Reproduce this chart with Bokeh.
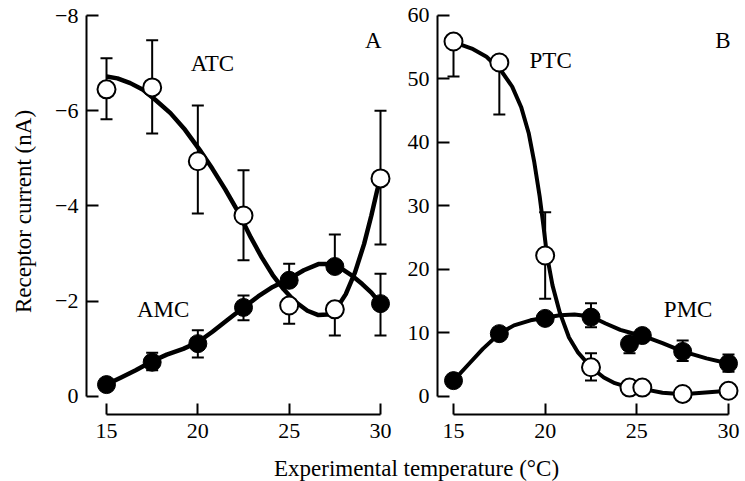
from bokeh.plotting import figure
from bokeh.layouts import column, row
from bokeh.models import Range1d, FixedTicker, Whisker, TeeHead, ColumnDataSource, Label
from bokeh.core.properties import value
from bokeh.embed import file_html
from bokeh.resources import INLINE

FONT = "Liberation Serif"
AXFONT = "'Liberation Serif', serif"

# ---------------- Panel A data (receptor current, nA; plotted negative) ----------------
a_temp = [15, 17.5, 20, 22.5, 25, 27.5, 30]
atc = [-6.45, -6.49, -4.94, -3.80, -1.91, -1.83, -4.58]
atc_lo = [-5.82, -5.52, -3.84, -2.86, -1.53, -1.28, -3.19]
atc_hi = [-7.10, -7.48, -6.11, -4.75, -1.91, -1.83, -6.00]
amc = [-0.25, -0.72, -1.11, -1.87, -2.44, -2.73, -1.95]
amc_lo = [-0.25, -0.55, -0.82, -1.60, -2.44, -2.73, -1.28]
amc_hi = [-0.25, -0.92, -1.39, -2.12, -2.79, -3.40, -2.58]

atc_fit_t = [15.0, 15.6, 16.3, 17.0, 17.7, 18.5, 19.3, 20.1, 20.8, 21.5, 22.2, 22.9, 23.5,
             24.1, 24.7, 25.3, 26.0, 26.6, 27.1, 27.6, 28.1, 28.6, 29.1, 29.5, 29.8, 30.0]
atc_fit_v = [-6.72, -6.68, -6.58, -6.44, -6.22, -5.95, -5.60, -5.18, -4.78, -4.35, -3.88, -3.34, -2.92,
             -2.55, -2.25, -2.00, -1.80, -1.71, -1.72, -1.85, -2.15, -2.60, -3.20, -3.80, -4.30, -4.60]
amc_fit_t = [15.0, 15.8, 16.6, 17.5, 18.3, 19.2, 20.0, 20.8, 21.6, 22.5, 23.3, 24.1,
             25.0, 25.8, 26.6, 27.2, 27.8, 28.4, 29.0, 29.5, 30.0]
amc_fit_v = [-0.25, -0.40, -0.55, -0.74, -0.88, -1.00, -1.14, -1.36, -1.60, -1.87, -2.10, -2.30,
             -2.47, -2.65, -2.78, -2.78, -2.70, -2.55, -2.36, -2.18, -1.95]

a_label_x = [20.8, 18.1, 29.6]
a_label_y = [-7.0, -1.83, -7.48]
a_label_text = ["ATC", "AMC", "A"]
a_yticks = [-8, -6, -4, -2, 0]
a_ytick_labels = ["\u22128", "\u22126", "\u22124", "\u22122", "0"]

# ---------------- Panel B data ----------------
b_temp = [15, 17.5, 20, 22.5, 24.6, 25.3, 27.5, 30]
ptc = [55.9, 52.6, 22.2, 4.6, 1.4, 1.4, 0.4, 0.9]
ptc_lo = [50.4, 44.4, 15.4, 2.5, 1.4, 1.4, 0.4, 0.9]
ptc_hi = [55.9, 52.6, 29.0, 6.8, 1.4, 1.4, 0.4, 0.9]
pmc = [2.5, 9.9, 12.3, 12.5, 8.3, 9.6, 7.1, 5.2]
pmc_lo = [2.5, 9.9, 12.3, 10.9, 6.8, 9.6, 5.6, 3.9]
pmc_hi = [2.5, 9.9, 12.3, 14.7, 8.3, 9.6, 8.8, 6.6]

ptc_fit_t = [15.2, 16.0, 16.8, 17.6, 18.2, 18.7, 19.1, 19.4, 19.7, 19.9, 20.1, 20.4,
             20.8, 21.3, 21.8, 22.5, 23.2, 23.8, 24.6, 25.3, 26.4, 27.5, 30.0]
ptc_fit_v = [55.6, 54.8, 53.5, 51.3, 48.8, 45.5, 41.5, 37.0, 31.5, 27.0, 22.2, 17.5,
             13.2, 9.3, 6.9, 4.6, 3.0, 2.1, 1.4, 1.2, 0.6, 0.35, 0.9]
pmc_fit_t = [15.0, 15.8, 16.6, 17.5, 18.3, 19.2, 20.0, 20.8, 21.6, 22.5, 23.3, 24.1,
             24.7, 25.3, 26.4, 27.5, 28.8, 30.0]
pmc_fit_v = [2.5, 5.0, 7.5, 9.9, 11.2, 12.0, 12.4, 12.8, 12.9, 12.6, 11.5, 10.5,
             10.0, 9.6, 8.4, 7.1, 6.0, 5.2]

b_label_x = [20.3, 27.8, 29.7]
b_label_y = [52.9, 13.7, 56.1]
b_label_text = ["PTC", "PMC", "B"]
b_yticks = [0, 10, 20, 30, 40, 50, 60]

xticks = [15, 20, 25, 30]
x_title = "Experimental temperature (\u00b0C)"
y_title = "Receptor current (nA)"


def style(p, ybounds, yticks):
    p.outline_line_color = None
    p.grid.visible = False
    p.background_fill_color = "white"
    for ax in (p.xaxis[0], p.yaxis[0]):
        ax.axis_line_width = 2
        ax.axis_line_color = "black"
        ax.major_tick_line_width = 2
        ax.major_tick_line_color = "black"
        ax.major_tick_out = 0
        ax.minor_tick_line_color = None
        ax.major_label_text_font = AXFONT
        ax.major_label_text_font_size = "22px"
        ax.major_label_text_color = "black"
    p.xaxis[0].bounds = (15, 30)
    p.xaxis[0].ticker = FixedTicker(ticks=xticks)
    p.xaxis[0].major_tick_in = 11
    p.xaxis[0].major_label_standoff = 9
    p.yaxis[0].bounds = ybounds
    p.yaxis[0].ticker = FixedTicker(ticks=yticks)
    p.yaxis[0].major_tick_in = 12
    p.yaxis[0].major_label_standoff = 8


def whisk(p, x, lo, hi):
    src = ColumnDataSource(dict(x=x, lo=lo, hi=hi))
    w = Whisker(source=src, base="x", lower="lo", upper="hi", dimension="height",
                line_width=2, line_color="black", level="underlay",
                lower_head=TeeHead(size=12, line_width=2, line_color="black"),
                upper_head=TeeHead(size=12, line_width=2, line_color="black"))
    p.add_layout(w)


# ---------------- Figure A ----------------
pA = figure(width=400, height=455, output_backend="svg", toolbar_location=None,
            x_range=Range1d(13.905, 30.657), y_range=Range1d(0.378, -8.147),
            min_border_left=86, min_border_right=8, min_border_top=8, min_border_bottom=41)
style(pA, (-8, 0), a_yticks)
pA.yaxis[0].major_label_overrides = {t: s for t, s in zip(a_yticks, a_ytick_labels)}
pA.yaxis[0].axis_label = y_title
pA.yaxis[0].axis_label_text_font = AXFONT
pA.yaxis[0].axis_label_text_font_size = "23px"
pA.yaxis[0].axis_label_text_font_style = "normal"
pA.yaxis[0].axis_label_text_color = "black"
pA.yaxis[0].axis_label_standoff = 16

whisk(pA, a_temp, atc_lo, atc_hi)
whisk(pA, a_temp, amc_lo, amc_hi)
pA.line(atc_fit_t, atc_fit_v, line_width=4.5, line_color="black", line_join="round")
pA.line(amc_fit_t, amc_fit_v, line_width=4.5, line_color="black", line_join="round")
pA.scatter(a_temp, amc, size=18, marker="circle", fill_color="black", line_color="black", line_width=1)
pA.scatter(a_temp, atc, size=18, marker="circle", fill_color="white", line_color="black", line_width=2)
pA.text(x=a_label_x, y=a_label_y, text=a_label_text, text_font=value(FONT),
        text_font_size="23px", text_align="center", text_baseline="middle", text_color="black")

# ---------------- Figure B ----------------
pB = figure(width=345, height=455, output_backend="svg", toolbar_location=None,
            x_range=Range1d(14.127, 30.655), y_range=Range1d(-2.835, 61.102),
            min_border_left=37, min_border_right=5, min_border_top=8, min_border_bottom=41)
style(pB, (0, 60), b_yticks)

whisk(pB, b_temp, ptc_lo, ptc_hi)
whisk(pB, b_temp, pmc_lo, pmc_hi)
pB.line(ptc_fit_t, ptc_fit_v, line_width=4, line_color="black", line_join="round")
pB.line(pmc_fit_t, pmc_fit_v, line_width=4, line_color="black", line_join="round")
pB.scatter(b_temp, pmc, size=18, marker="circle", fill_color="black", line_color="black", line_width=1)
pB.scatter(b_temp, ptc, size=18, marker="circle", fill_color="white", line_color="black", line_width=2)
pB.text(x=b_label_x, y=b_label_y, text=b_label_text, text_font=value(FONT),
        text_font_size="23px", text_align="center", text_baseline="middle", text_color="black")

# ---------------- shared x-axis title ----------------
pL = figure(width=745, height=26, output_backend="svg", toolbar_location=None,
            x_range=Range1d(0, 745), y_range=Range1d(0, 26),
            x_axis_type=None, y_axis_type=None, min_border=0)
pL.outline_line_color = None
pL.grid.visible = False
pL.add_layout(Label(x=416, y=13, text=x_title, text_align="center", text_baseline="middle",
                    text_font=FONT, text_font_size="23px", text_color="black"))

layout = column(row(pA, pB), pL)
open("out.html", "w").write(file_html(layout, INLINE))
